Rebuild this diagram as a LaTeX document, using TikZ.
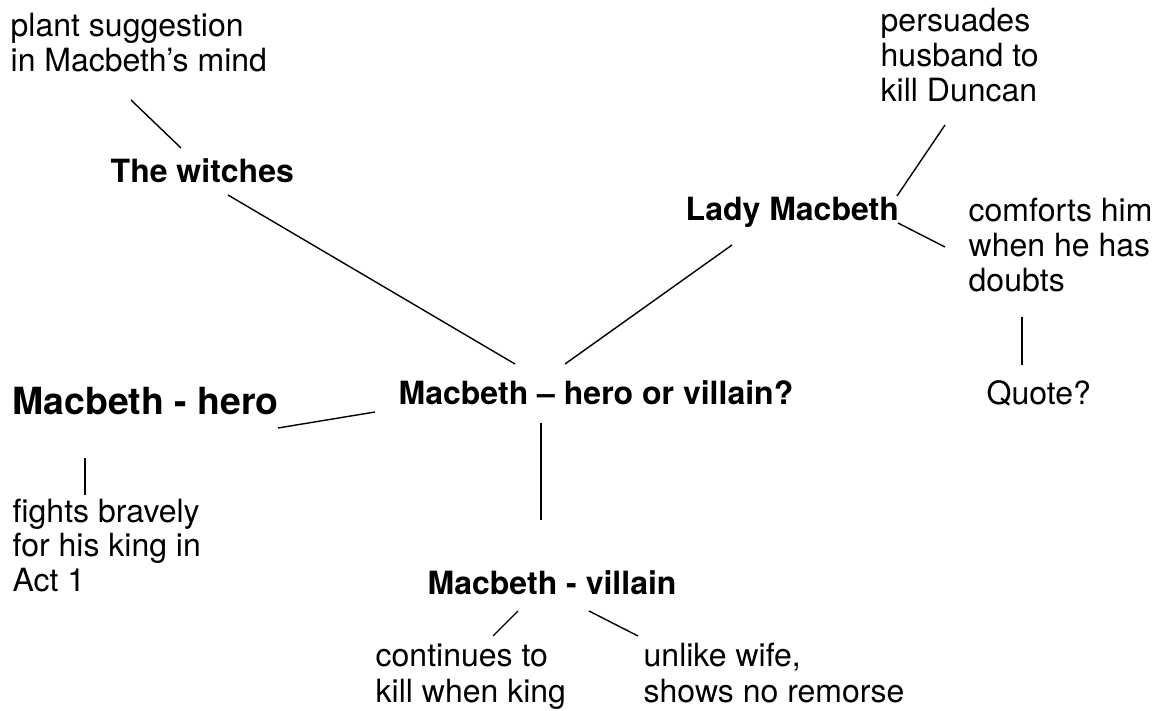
\documentclass[tikz,border=0pt]{standalone}
\usepackage{fontspec}
\setmainfont{TeX Gyre Heros}
\usepackage{tikz}

\begin{document}
\begin{tikzpicture}[x=0.5pt,y=-0.5pt,line width=0.7pt,
  every node/.style={inner sep=0pt,anchor=base west,align=left,
    font=\fontsize{16}{17.5}\selectfont},
  head/.style={font=\fontsize{16}{17.5}\selectfont\bfseries},
  bighead/.style={font=\fontsize{18.7}{20}\selectfont\bfseries}]
\useasboundingbox (0,0) rectangle (1169,711);
% multi-line texts sit on the baseline of their last line
\node (plant) at (10,72) {plant suggestion\\in Macbeth's mind};
\node[head] (witch) at (110,183) {The witches};
\node[head] (lady) at (685,221) {Lady Macbeth};
\node (persu) at (880,102) {persuades\\husband to\\kill Duncan};
\node (comf) at (968,292) {comforts him\\when he has\\doubts};
\node (quote) at (986,405) {Quote?};
\node[head] (mvh) at (398,405) {Macbeth -- hero or villain?};
\node[bighead] (hero) at (12,415) {Macbeth - hero};
\node (fights) at (12,592) {fights bravely\\for his king in\\Act 1};
\node[head] (vill) at (427,595) {Macbeth - villain};
\node (cont) at (375,702) {continues to\\kill when king};
\node (unlike) at (643,702) {unlike wife,\\shows no remorse};
\draw ([shift={(121,28)}]plant.base west) -- ([shift={(71,-35)}]witch.base west);
\draw ([shift={(118,12)}]witch.base west) -- ([shift={(117,-41)}]mvh.base west);
\draw ([shift={(167,-41)}]mvh.base west) -- ([shift={(47,24)}]lady.base west);
\draw ([shift={(212,-25)}]lady.base west) -- ([shift={(65,23)}]persu.base west);
\draw ([shift={(213,2)}]lady.base west) -- ([shift={(-23,-45)}]comf.base west);
\draw ([shift={(54,25)}]comf.base west) -- ([shift={(36,-40)}]quote.base west);
\draw ([shift={(-23,7)}]mvh.base west) -- ([shift={(266,13)}]hero.base west);
\draw ([shift={(73,43)}]hero.base west) -- ([shift={(73,-97)}]fights.base west);
\draw ([shift={(143,18)}]mvh.base west) -- ([shift={(114,-75)}]vill.base west);
\draw ([shift={(91,16)}]vill.base west) -- ([shift={(118,-66)}]cont.base west);
\draw ([shift={(162,16)}]vill.base west) -- ([shift={(-5,-66)}]unlike.base west);
\end{tikzpicture}
\end{document}
